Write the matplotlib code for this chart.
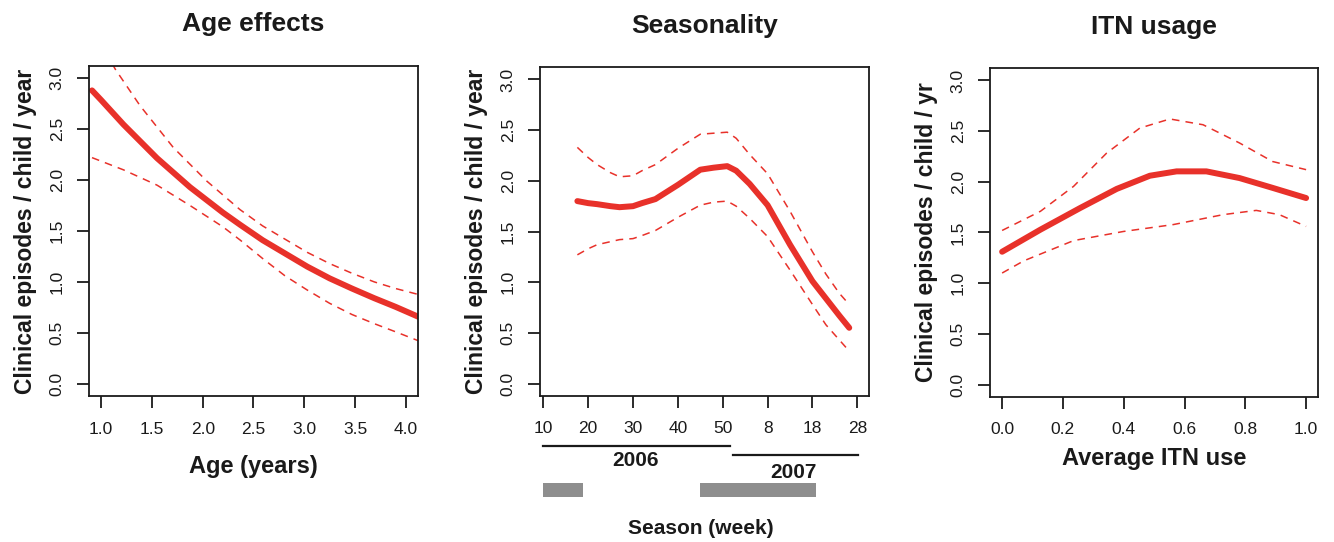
import numpy as np
import matplotlib.pyplot as plt
from matplotlib.transforms import blended_transform_factory

plt.rcParams["font.family"] = ["Liberation Sans", "DejaVu Sans"]

RED = "#E8312A"
GREY = "#8E8E8E"
INK = "#1A1A1A"

# --- Age effects ---
age_x = [0.91, 1.0, 1.22, 1.55, 1.875, 2.2, 2.37, 2.59, 2.81, 3.03, 3.25, 3.47, 3.69, 3.9, 4.13]
age_fit = [2.88, 2.785, 2.545, 2.215, 1.93, 1.68, 1.56, 1.41, 1.28, 1.15, 1.035, 0.935,
           0.84, 0.755, 0.655]
age_up_x = [0.91, 1.138, 1.383, 1.71, 2.04, 2.367, 2.59, 2.81, 3.03, 3.25, 3.47, 3.69, 3.9, 4.13]
age_upper = [3.50, 3.09, 2.73, 2.32, 1.99, 1.71, 1.55, 1.42, 1.29, 1.18, 1.085, 1.00,
             0.935, 0.875]
age_lo_x = [0.91, 1.22, 1.55, 1.875, 2.2, 2.37, 2.59, 2.81, 3.03, 3.25, 3.47, 3.69, 3.9, 4.13]
age_lower = [2.22, 2.10, 1.95, 1.75, 1.54, 1.41, 1.23, 1.06, 0.92, 0.79, 0.68, 0.59,
             0.51, 0.42]

# --- Seasonality (continuous week index, 2006 week 10 .. 2007 week 28) ---
week_x = [17.6, 20, 22, 25, 27, 30, 32, 35, 40, 45, 48, 51, 53, 56, 60, 65, 70, 73, 76, 78.2]
week_fit = [1.80, 1.78, 1.77, 1.75, 1.74, 1.75, 1.78, 1.82, 1.96, 2.11, 2.13, 2.145,
            2.10, 1.97, 1.76, 1.37, 1.01, 0.84, 0.67, 0.55]
week_upper = [2.33, 2.23, 2.16, 2.08, 2.04, 2.05, 2.10, 2.16, 2.32, 2.46, 2.47, 2.48,
              2.42, 2.26, 2.07, 1.70, 1.30, 1.08, 0.89, 0.78]
week_lower = [1.27, 1.33, 1.37, 1.40, 1.42, 1.43, 1.46, 1.51, 1.64, 1.76, 1.79, 1.80,
              1.75, 1.63, 1.45, 1.12, 0.78, 0.58, 0.43, 0.32]
week_ticks = [10, 20, 30, 40, 50, 60, 70, 80]
week_labels = ["10", "20", "30", "40", "50", "8", "18", "28"]
year_names = ["2006", "2007"]
year_start = [9.9, 52.2]
year_end = [51.7, 80.2]
year_label_x = [30.6, 65.7]
season_start = [10.0, 44.9]
season_end = [18.9, 70.7]

# --- ITN usage ---
itn_x = [0.0, 0.126, 0.257, 0.377, 0.486, 0.574, 0.672, 0.781, 0.89, 1.0]
itn_fit = [1.31, 1.528, 1.742, 1.93, 2.06, 2.103, 2.103, 2.037, 1.94, 1.84]
itn_up_x = [0.0, 0.126, 0.235, 0.344, 0.453, 0.552, 0.661, 0.781, 0.89, 1.0]
itn_upper = [1.52, 1.709, 1.955, 2.284, 2.53, 2.62, 2.563, 2.383, 2.20, 2.12]
itn_lo_x = [0.0, 0.071, 0.235, 0.399, 0.563, 0.727, 0.836, 0.912, 1.0]
itn_lower = [1.10, 1.22, 1.42, 1.51, 1.578, 1.676, 1.718, 1.676, 1.56]

y_ticks = [0.0, 0.5, 1.0, 1.5, 2.0, 2.5, 3.0]


def style_axis(ax, title, ylabel):
    ax.set_ylim(-0.12, 3.12)
    ax.set_yticks(y_ticks)
    ax.set_yticklabels([f"{v:.1f}" for v in y_ticks])
    ax.tick_params(direction="out", length=8.5, width=1.3, labelsize=12.5,
                   colors=INK)
    ax.tick_params(axis="x", pad=10)
    ax.tick_params(axis="y", labelrotation=90, pad=9)
    for lab in ax.get_yticklabels():
        lab.set_va("center")
    for s in ax.spines.values():
        s.set_linewidth(1.3)
        s.set_color(INK)
    ax.set_title(title, fontsize=19, fontweight="bold", color=INK, pad=25)
    ax.set_ylabel(ylabel, fontsize=16.5, fontweight="bold", color=INK, labelpad=9)


def draw_curves(ax, x, fit, ux, upper, lx, lower):
    ax.plot(ux, upper, color=RED, lw=1.1, dashes=(5, 4))
    ax.plot(lx, lower, color=RED, lw=1.1, dashes=(5, 4))
    ax.plot(x, fit, color=RED, lw=4.3, solid_capstyle="round",
            solid_joinstyle="round")


fig = plt.figure(figsize=(13.34, 5.42), dpi=100)

# Age effects
ax1 = fig.add_axes([0.0667, 0.2694, 0.2466, 0.6089])
draw_curves(ax1, age_x, age_fit, age_up_x, age_upper, age_lo_x, age_lower)
ax1.set_xlim(0.88, 4.12)
ax1.set_xticks([1.0, 1.5, 2.0, 2.5, 3.0, 3.5, 4.0])
ax1.set_xticklabels(["1.0", "1.5", "2.0", "2.5", "3.0", "3.5", "4.0"])
style_axis(ax1, "Age effects", "Clinical episodes / child / year")
ax1.set_xlabel("Age (years)", fontsize=17, fontweight="bold", color=INK, labelpad=13)

# Seasonality
ax2 = fig.add_axes([0.4048, 0.2699, 0.2466, 0.6059])
draw_curves(ax2, week_x, week_fit, week_x, week_upper, week_x, week_lower)
ax2.set_xlim(9.27, 82.6)
ax2.set_xticks(week_ticks)
ax2.set_xticklabels(week_labels)
style_axis(ax2, "Seasonality", "Clinical episodes / child / year")
tr = blended_transform_factory(ax2.transData, ax2.transAxes)
line_y = [-0.153, -0.182]
text_y = [-0.196, -0.235]
for i in range(2):
    ax2.plot([year_start[i], year_end[i]], [line_y[i], line_y[i]], color=INK,
             lw=1.6, transform=tr, clip_on=False)
    ax2.text(year_label_x[i], text_y[i], year_names[i], transform=tr,
             ha="center", va="center", fontsize=15, fontweight="bold", color=INK)
for s0, s1 in zip(season_start, season_end):
    ax2.add_patch(plt.Rectangle((s0, -0.307), s1 - s0, 0.042, transform=tr,
                                facecolor=GREY, edgecolor="none", clip_on=False))
ax2.text(0.49, -0.405, "Season (week)", transform=ax2.transAxes, ha="center",
         va="center", fontsize=15, fontweight="bold", color=INK)

# ITN usage
ax3 = fig.add_axes([0.7421, 0.2681, 0.2461, 0.6059])
draw_curves(ax3, itn_x, itn_fit, itn_up_x, itn_upper, itn_lo_x, itn_lower)
ax3.set_xlim(-0.04, 1.04)
ax3.set_xticks([0.0, 0.2, 0.4, 0.6, 0.8, 1.0])
ax3.set_xticklabels(["0.0", "0.2", "0.4", "0.6", "0.8", "1.0"])
style_axis(ax3, "ITN usage", "Clinical episodes / child / yr")
ax3.set_xlabel("Average ITN use", fontsize=17, fontweight="bold", color=INK, labelpad=7)

fig.savefig("out.png", dpi=100, facecolor="white")
